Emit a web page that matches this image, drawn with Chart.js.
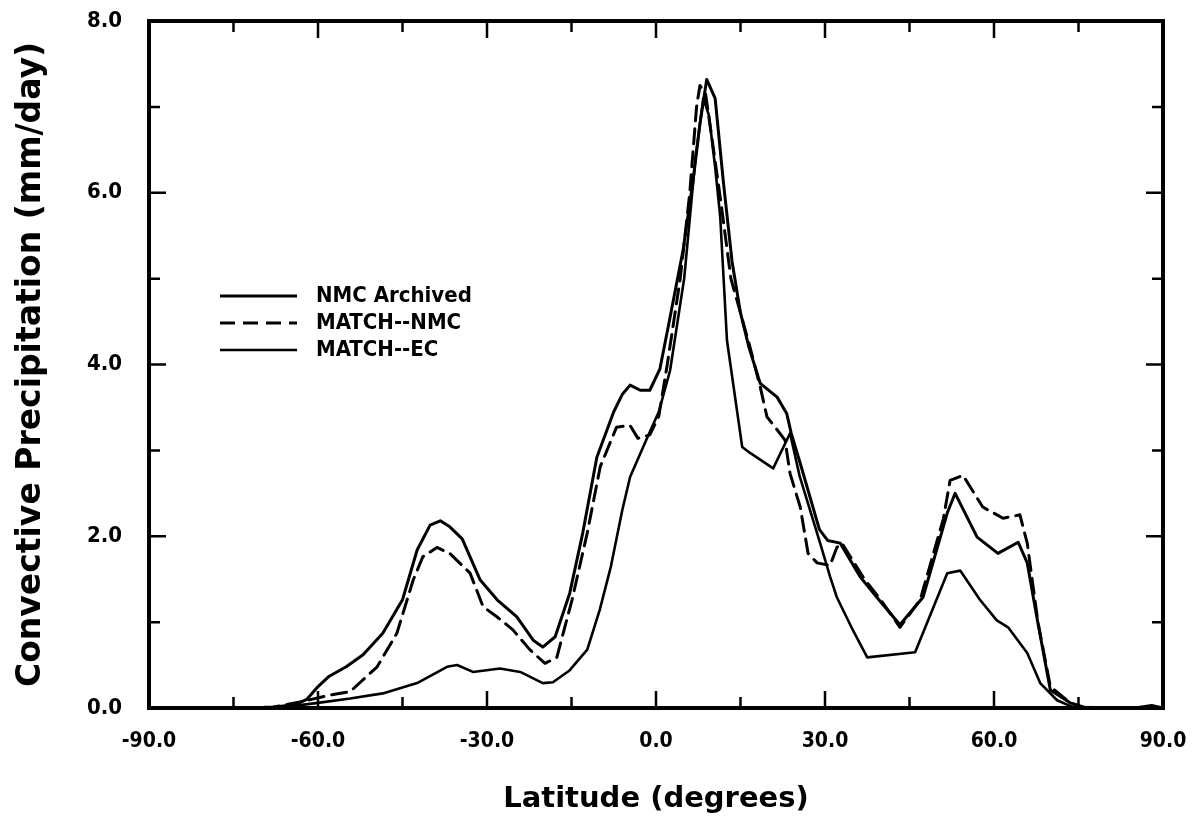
<!DOCTYPE html>
<html>
<head>
<meta charset="utf-8">
<title>Convective Precipitation</title>
<script src="https://cdn.jsdelivr.net/npm/chart.js@4.4.0/dist/chart.umd.min.js"></script>
<style>
  html, body { margin: 0; padding: 0; background: #fff; }
  #wrap { width: 1194px; height: 825px; }
</style>
</head>
<body>
<div id="wrap"><canvas id="myChart" width="1194" height="825"></canvas></div>
<script>
'use strict';

// zonal mean convective precipitation, mm/day, by latitude
const nmcLat = [-90, -75, -68, -64, -62, -60, -58, -55, -52, -48.5, -45, -42.4, -40.1, -38.3, -36.6, -34.4, -31.2, -28.2, -24.7, -21.8, -20.1, -17.9, -15.3, -13, -10.5, -7.5, -6, -4.6, -2.8, -1.1, 0.7, 2.5, 4.8, 6.6, 7.8, 9, 10.5, 12, 13.5, 15, 16.5, 18.5, 21.5, 23.2, 24, 25.6, 29, 30.5, 32.7, 36.2, 39.2, 43.3, 47.4, 51.7, 53.1, 57, 60.7, 64.3, 65.9, 67.6, 70, 73.5, 76, 85, 88, 90];
const nmcVal = [0, 0, 0.01, 0.04, 0.1, 0.25, 0.37, 0.48, 0.62, 0.87, 1.26, 1.84, 2.13, 2.18, 2.11, 1.97, 1.49, 1.26, 1.06, 0.79, 0.71, 0.83, 1.34, 2.04, 2.92, 3.45, 3.65, 3.76, 3.7, 3.7, 3.95, 4.55, 5.33, 6.15, 6.8, 7.32, 7.1, 6.1, 5.2, 4.6, 4.2, 3.78, 3.62, 3.43, 3.2, 2.85, 2.08, 1.95, 1.92, 1.53, 1.29, 0.97, 1.29, 2.27, 2.5, 1.99, 1.8, 1.93, 1.69, 1.06, 0.21, 0.06, 0.01, 0, 0.03, 0];

const matchNmcLat = [-90, -75, -68, -63.2, -57.9, -54.3, -49.5, -46, -43.1, -41.4, -38.9, -36.6, -33, -30.7, -28.2, -25.4, -22.4, -19.7, -17.6, -14.9, -12.2, -9.9, -7, -4.6, -3.2, -1.1, 0.5, 2, 4.3, 6, 7.2, 7.8, 8.8, 10, 11.5, 13.3, 16.7, 18.5, 19.7, 21.5, 22.9, 23.8, 25.6, 27, 28.6, 30.9, 32.1, 33, 37, 40, 43.3, 46.9, 51, 52.2, 54.5, 58, 61.6, 64.6, 65.9, 66.7, 67.8, 70, 73.5, 76, 90];
const matchNmcVal = [0, 0, 0.01, 0.07, 0.15, 0.19, 0.48, 0.87, 1.49, 1.76, 1.87, 1.8, 1.57, 1.18, 1.06, 0.91, 0.68, 0.52, 0.59, 1.26, 2.04, 2.81, 3.27, 3.29, 3.14, 3.18, 3.4, 4.0, 5.0, 6.0, 7.0, 7.25, 7.15, 6.6, 5.9, 5.0, 4.2, 3.74, 3.39, 3.24, 3.12, 2.73, 2.34, 1.8, 1.69, 1.66, 1.87, 1.92, 1.5, 1.25, 0.94, 1.26, 2.2, 2.65, 2.71, 2.34, 2.21, 2.25, 1.92, 1.53, 1.0, 0.25, 0.06, 0, 0];

const matchEcLat = [-90, -75, -66, -60, -54.3, -48.5, -42.4, -37.1, -35.3, -32.5, -27.7, -24.1, -20.1, -18.3, -15.3, -12.2, -10, -8, -6, -4.6, -1.6, 0.5, 2.5, 5, 7, 8.4, 9.4, 10.5, 11.4, 12.6, 15.3, 16.7, 20.8, 23.8, 25.5, 29, 30.9, 32.1, 35, 37.5, 46, 51.7, 54, 57.5, 60.5, 62.5, 65.9, 68.2, 71.2, 74, 90];
const matchEcVal = [0, 0, 0.01, 0.06, 0.11, 0.17, 0.29, 0.48, 0.5, 0.42, 0.46, 0.42, 0.29, 0.3, 0.44, 0.68, 1.14, 1.65, 2.3, 2.69, 3.14, 3.45, 3.93, 5.0, 6.4, 7.1, 6.9, 6.3, 5.72, 4.28, 3.04, 2.97, 2.79, 3.2, 2.7, 1.95, 1.53, 1.29, 0.9, 0.59, 0.65, 1.57, 1.6, 1.26, 1.02, 0.94, 0.64, 0.29, 0.09, 0.01, 0];

const seriesNames = ['NMC Archived', 'MATCH--NMC', 'MATCH--EC'];
const xTicks = [-90, -60, -30, 0, 30, 60, 90];
const yTicks = [0, 2, 4, 6, 8];

function toPoints(lats, vals) {
  return lats.map((lat, i) => ({ x: lat, y: vals[i] }));
}

const FONT = "'DejaVu Sans', sans-serif";
const NARROW = "'DejaVu Sans Condensed', 'Liberation Sans Narrow', 'DejaVu Sans', sans-serif";

// box round the plot, inward ticks and the line key
const frameAndKey = {
  id: 'frameAndKey',
  afterDatasetsDraw(chart) {
    const ctx = chart.ctx;
    const a = chart.chartArea;
    const xs = chart.scales.x;
    const ys = chart.scales.y;
    ctx.save();
    ctx.strokeStyle = '#000';
    ctx.lineCap = 'butt';

    ctx.lineWidth = 2.5;
    ctx.beginPath();
    for (let v = -90; v <= 90; v += 15) {
      const px = xs.getPixelForValue(v);
      const len = v % 30 === 0 ? 17 : 11;
      ctx.moveTo(px, a.bottom); ctx.lineTo(px, a.bottom - len);
      ctx.moveTo(px, a.top); ctx.lineTo(px, a.top + len);
    }
    for (let v = 0; v <= 8; v += 1) {
      const py = ys.getPixelForValue(v);
      const len = v % 2 === 0 ? 17 : 11;
      ctx.moveTo(a.left, py); ctx.lineTo(a.left + len, py);
      ctx.moveTo(a.right, py); ctx.lineTo(a.right - len, py);
    }
    ctx.stroke();

    ctx.lineWidth = 4;
    ctx.strokeRect(a.left, a.top, a.right - a.left, a.bottom - a.top);

    // key
    const x0 = 220, x1 = 297, tx = 316;
    const rows = [296, 323, 350];
    ctx.font = 'bold 22px ' + NARROW;
    ctx.fillStyle = '#000';
    ctx.textBaseline = 'middle';
    chart.data.datasets.forEach((ds, i) => {
      ctx.lineWidth = ds.borderWidth;
      ctx.setLineDash(ds.borderDash || []);
      ctx.beginPath();
      ctx.moveTo(x0, rows[i]);
      ctx.lineTo(x1, rows[i]);
      ctx.stroke();
      ctx.setLineDash([]);
      ctx.fillText(ds.label, tx, rows[i]);
    });
    ctx.restore();
  }
};

const ctx = document.getElementById('myChart').getContext('2d');
const chart = new Chart(ctx, {
  type: 'line',
  data: {
    datasets: [{
      label: seriesNames[0],
      data: toPoints(nmcLat, nmcVal),
      borderColor: '#000',
      borderWidth: 3,
      pointRadius: 0
    },
    {
      label: seriesNames[1],
      data: toPoints(matchNmcLat, matchNmcVal),
      borderColor: '#000',
      borderWidth: 3,
      borderDash: [15, 8],
      pointRadius: 0
    },
    {
      label: seriesNames[2],
      data: toPoints(matchEcLat, matchEcVal),
      borderColor: '#000',
      borderWidth: 2.6,
      pointRadius: 0
    }]
  },
  options: {
    responsive: false,
    animation: false,
    layout: { padding: { top: 21, right: 31, left: 0, bottom: 0 } },
    plugins: {
      legend: { display: false },
      tooltip: { enabled: false }
    },
    elements: { line: { tension: 0, borderJoinStyle: 'round', borderCapStyle: 'round' } },
    scales: {
      x: {
        type: 'linear',
        min: -90,
        max: 90,
        afterBuildTicks: (s) => { s.ticks = xTicks.map(v => ({ value: v })); },
        afterFit: (s) => { s.height = 117; s.paddingLeft = 0; s.paddingRight = 0; },
        grid: { display: false, drawTicks: false },
        border: { display: false },
        ticks: {
          color: '#000',
          padding: 21,
          maxRotation: 0,
          font: { family: NARROW, size: 21, weight: 'bold' },
          callback: (v) => v.toFixed(1)
        },
        title: {
          display: true,
          text: 'Latitude (degrees)',
          color: '#000',
          font: { family: FONT, size: 29, weight: 'bold' },
          padding: { top: 0, bottom: 8 }
        }
      },
      y: {
        type: 'linear',
        min: 0,
        max: 8,
        afterBuildTicks: (s) => { s.ticks = yTicks.map(v => ({ value: v })); },
        afterFit: (s) => { s.width = 149; s.paddingTop = 0; s.paddingBottom = 0; },
        grid: { display: false, drawTicks: false },
        border: { display: false },
        ticks: {
          color: '#000',
          padding: 27,
          font: { family: NARROW, size: 22, weight: 'bold' },
          callback: (v) => v.toFixed(1)
        },
        title: {
          display: true,
          text: 'Convective Precipitation (mm/day)',
          color: '#000',
          font: { family: FONT, size: 33, weight: 'bold' },
          padding: { top: 12, bottom: 0 }
        }
      }
    }
  },
  plugins: [frameAndKey]
});
</script>
</body>
</html>
